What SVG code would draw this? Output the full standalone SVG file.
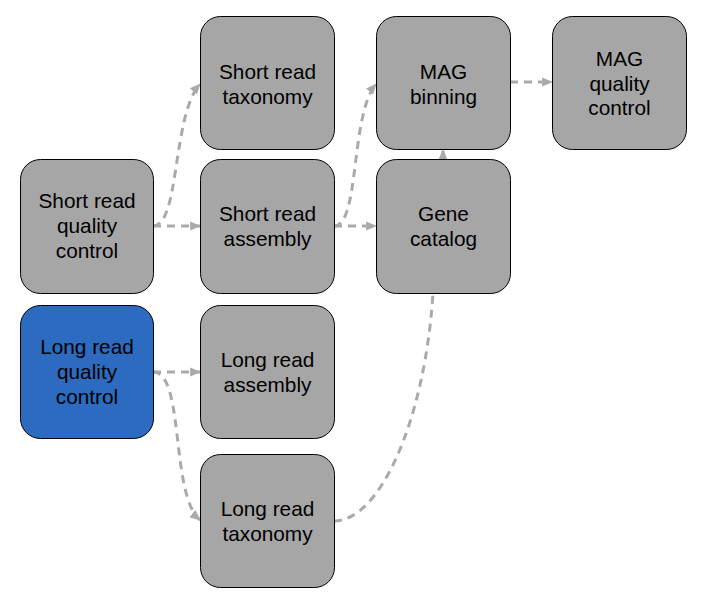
<svg xmlns="http://www.w3.org/2000/svg" width="716" height="608" viewBox="0 0 716 608">
<defs>
<marker id="arr" viewBox="0 0 10 10" refX="9" refY="5" markerWidth="11" markerHeight="11" markerUnits="userSpaceOnUse" orient="auto">
<path d="M0,0.8 L10,5 L0,9.2 Z" fill="#aaaaaa"/>
</marker>
<style>
.box{fill:#a6a6a6;stroke:#000;stroke-width:1}
.blue{fill:#2c6bbf}
.t{font-family:"Liberation Sans",Arial,sans-serif;font-size:20.8px;fill:#000;text-anchor:middle}
.e{fill:none;stroke:#aaaaaa;stroke-width:3;stroke-dasharray:8,6}
</style>
</defs>
<rect width="716" height="608" fill="#fff"/>
<g id="connectors">
<path class="e" d="M153,226 C180,226 172,115 200,84" marker-end="url(#arr)"/>
<path class="e" d="M153,226 L200,226" marker-end="url(#arr)"/>
<path class="e" d="M334,226 C360,226 350,115 376,84" marker-end="url(#arr)"/>
<path class="e" d="M334,226 L376,226" marker-end="url(#arr)"/>
<path class="e" d="M443,159 L443,150" marker-end="url(#arr)"/>
<path class="e" d="M510,82 L552,82" marker-end="url(#arr)"/>
<path class="e" d="M153,372 L200,372" marker-end="url(#arr)"/>
<path class="e" d="M153,372 C185,372 170,495 200,520" marker-end="url(#arr)"/>
<path class="e" d="M334,521 C380,521 425,420 433,293"/>
</g>
<g id="sr_tax"><rect class="box" x="200.5" y="16.5" width="134" height="133" rx="20"/><text class="t" x="267.5" y="79">Short read</text><text class="t" x="267.5" y="104">taxonomy</text></g>
<g id="sr_asm"><rect class="box" x="200.5" y="159.5" width="134" height="134" rx="20"/><text class="t" x="267.5" y="221">Short read</text><text class="t" x="267.5" y="246">assembly</text></g>
<g id="sr_qc"><rect class="box" x="20.5" y="159.5" width="133" height="134" rx="20"/><text class="t" x="87" y="208">Short read</text><text class="t" x="87" y="233">quality</text><text class="t" x="87" y="257.5">control</text></g>
<g id="lr_qc"><rect class="box blue" x="20.5" y="305.5" width="133" height="133" rx="20"/><text class="t" x="87" y="354">Long read</text><text class="t" x="87" y="379">quality</text><text class="t" x="87" y="403.5">control</text></g>
<g id="lr_asm"><rect class="box" x="200.5" y="305.5" width="134" height="133" rx="20"/><text class="t" x="267.5" y="367">Long read</text><text class="t" x="267.5" y="392">assembly</text></g>
<g id="lr_tax"><rect class="box" x="200.5" y="454.5" width="134" height="133" rx="20"/><text class="t" x="267.5" y="516">Long read</text><text class="t" x="267.5" y="541">taxonomy</text></g>
<g id="mag_bin"><rect class="box" x="376.5" y="16.5" width="134" height="133" rx="20"/><text class="t" x="443.5" y="79">MAG</text><text class="t" x="443.5" y="104">binning</text></g>
<g id="gene_cat"><rect class="box" x="376.5" y="159.5" width="134" height="134" rx="20"/><text class="t" x="443.5" y="221">Gene</text><text class="t" x="443.5" y="246">catalog</text></g>
<g id="mag_qc"><rect class="box" x="552.5" y="16.5" width="134" height="133" rx="20"/><text class="t" x="619.5" y="65.5">MAG</text><text class="t" x="619.5" y="90.5">quality</text><text class="t" x="619.5" y="115">control</text></g>
</svg>
